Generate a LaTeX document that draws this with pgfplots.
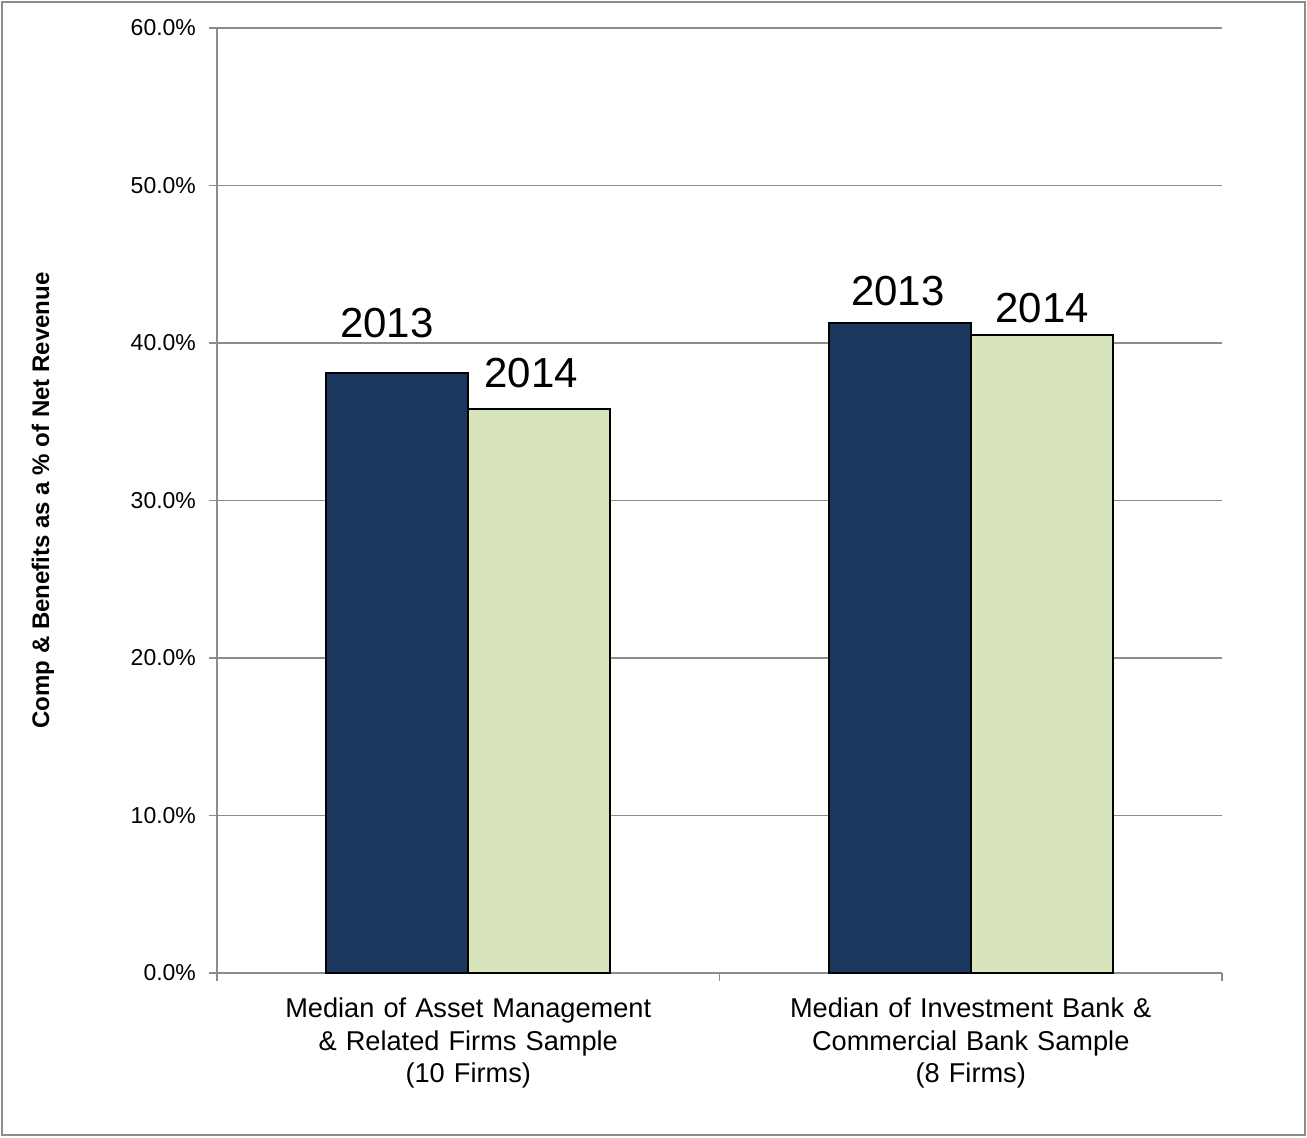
\documentclass[border=0pt]{standalone}
\usepackage{fontspec}
\setmainfont{Liberation Sans}
\usepackage{pgfplots}
\pgfplotsset{compat=1.18}
\definecolor{navy}{HTML}{1B375E}
\definecolor{sage}{HTML}{D8E4BC}
\definecolor{gridgray}{HTML}{8C8C8C}
\begin{document}
\begin{tikzpicture}
\useasboundingbox (-108.5pt,-82pt) rectangle (545pt,486.5pt);
\draw[gridgray, line width=1pt] (-107.5pt,-81pt) rectangle (544pt,485.5pt);
\begin{axis}[
  at={(0pt,0pt)}, anchor=south west,
  width=502.5pt, height=472.5pt, scale only axis,
  ybar=0pt, bar width=71pt,
  xmin=-0.5, xmax=1.5, ymin=0, ymax=60,
  axis x line=bottom, axis y line=left,
  axis line style={gridgray, line width=1pt, -},
  tick align=outside,
  ytick={0,10,20,30,40,50,60},
  yticklabel={\pgfmathprintnumber[fixed, fixed zerofill, precision=1]{\tick}\%},
  /pgf/number format/assume math mode=true,
  ymajorgrids, grid style={gridgray, line width=0.75pt},
  tick style={gridgray, line width=0.75pt},
  major tick length=4pt,
  y tick label style={font=\fontsize{11.5}{13}\selectfont, xshift=-3pt},
  xtick={-0.5,0.5,1.5}, xticklabels={},
  extra x ticks={0,1},
  extra x tick labels={Median of Asset Management\\ \& Related Firms Sample\\ (10 Firms), Median of Investment Bank \&\\ Commercial Bank Sample\\ (8 Firms)},
  extra x tick style={major tick length=0pt, tick label style={font=\fontsize{13.6}{16.3}\selectfont, text width=260pt, align=center, yshift=-9pt}},
  ylabel={Comp \& Benefits as a \% of Net Revenue},
  ylabel style={at={(axis description cs:-0.1731,0.5)}, anchor=center, font=\bfseries\fontsize{12}{13}\selectfont},
]
\addplot[fill=navy, draw=black, line width=1pt] coordinates {(0,38.1) (1,41.3)};
\addplot[fill=sage, draw=black, line width=1pt] coordinates {(0,35.8) (1,40.5)};
\node[anchor=base, font=\fontsize{21}{24}\selectfont] at (axis cs:-0.162,40.38) {2013};
\node[anchor=base, font=\fontsize{21}{24}\selectfont] at (axis cs:0.125,37.2) {2014};
\node[anchor=base, font=\fontsize{21}{24}\selectfont] at (axis cs:0.855,42.41) {2013};
\node[anchor=base, font=\fontsize{21}{24}\selectfont] at (axis cs:1.142,41.33) {2014};
\end{axis}
\end{tikzpicture}
\end{document}
